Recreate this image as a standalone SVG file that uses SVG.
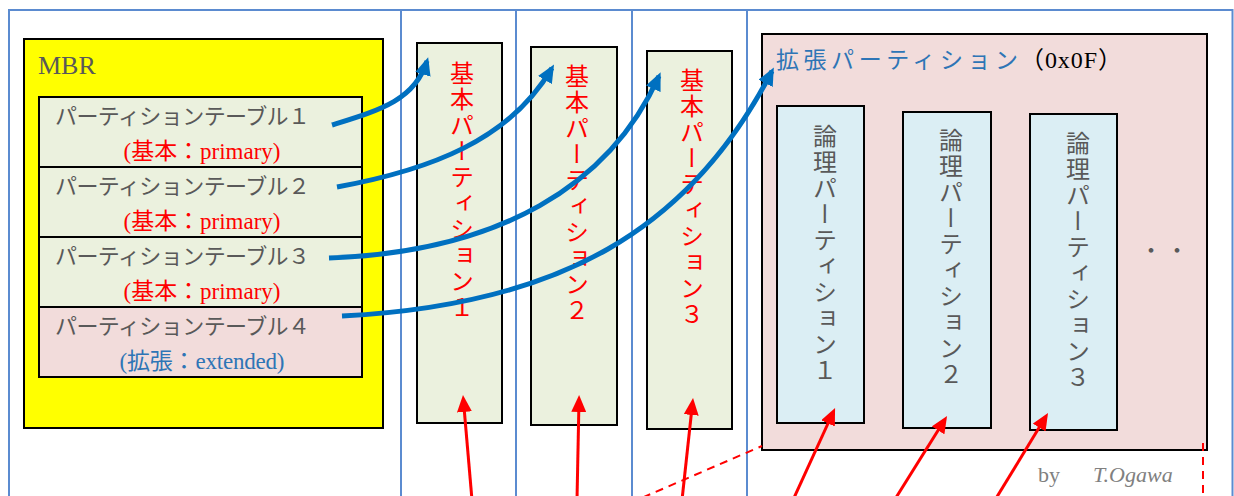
<svg xmlns="http://www.w3.org/2000/svg" width="1234" height="496" viewBox="0 0 1234 496">
<style>
.frame{fill:none;stroke:#5B8BD0;stroke-width:2}
.box{stroke:#000;stroke-width:2}
.grn{fill:#EBF1DE}
.pnk{fill:#F2DCDB}
.cyn{fill:#DBEEF4}
.t{font-family:"Liberation Serif","Noto Sans CJK JP",serif}
.gray{fill:#595959}
.red{fill:#FF0000}
.blu{fill:#2E75B6}
.vt{font-family:"Noto Sans CJK JP",sans-serif;font-size:24px;writing-mode:vertical-rl;letter-spacing:2px}
.bc{fill:none;stroke:#0070C0;stroke-width:5;marker-end:url(#bh)}
.rc{fill:none;stroke:#FF0000;stroke-width:3;marker-end:url(#rh)}
.rd{fill:none;stroke:#FF0000;stroke-width:2;stroke-dasharray:8,6}
</style>
<defs>
<marker id="bh" viewBox="0 0 18 16" refX="14" refY="8" markerWidth="18" markerHeight="16" markerUnits="userSpaceOnUse" orient="auto">
<path d="M0,0 L18,8 L0,16 z" fill="#0070C0"/>
</marker>
<marker id="rh" viewBox="0 0 17 15" refX="12" refY="7.5" markerWidth="17" markerHeight="15" markerUnits="userSpaceOnUse" orient="auto">
<path d="M0,0 L17,7.5 L0,15 z" fill="#FF0000"/>
</marker>
</defs>
<rect width="1234" height="496" fill="#fff"/>
<g id="frame">
<path class="frame" d="M9,500 V10 H1232.5 V500 M401,10 V500 M516,10 V500 M632,10 V500 M747,10 V500"/>
</g>
<g id="mbr">
<rect class="box" x="24" y="39" width="359" height="389" fill="#FFFF00"/>
<text class="t gray" x="38" y="74" font-size="26">MBR</text>
</g>
<g id="pt1">
<rect class="box grn" x="39" y="97" width="323" height="70"/>
<text class="t gray" x="55" y="124" font-size="22" textLength="255">パーティションテーブル１</text>
<text class="t red" x="202" y="159" font-size="23" text-anchor="middle" textLength="157">(基本：primary)</text>
</g>
<g id="pt2">
<rect class="box grn" x="39" y="167" width="323" height="70"/>
<text class="t gray" x="55" y="194" font-size="22" textLength="255">パーティションテーブル２</text>
<text class="t red" x="202" y="229" font-size="23" text-anchor="middle" textLength="157">(基本：primary)</text>
</g>
<g id="pt3">
<rect class="box grn" x="39" y="237" width="323" height="70"/>
<text class="t gray" x="55" y="264" font-size="22" textLength="255">パーティションテーブル３</text>
<text class="t red" x="202" y="299" font-size="23" text-anchor="middle" textLength="157">(基本：primary)</text>
</g>
<g id="pt4">
<rect class="box pnk" x="39" y="307" width="323" height="70"/>
<text class="t gray" x="55" y="334" font-size="22" textLength="255">パーティションテーブル４</text>
<text class="t blu" x="202" y="369" font-size="23" text-anchor="middle" textLength="165">(拡張：extended)</text>
</g>
<g id="primary1">
<rect class="box grn" x="417" y="43" width="85" height="380"/>
<text class="vt red" x="462" y="61">基本パーティション１</text>
</g>
<g id="primary2">
<rect class="box grn" x="531" y="47" width="86" height="378"/>
<text class="vt red" x="577" y="64">基本パーティション２</text>
</g>
<g id="primary3">
<rect class="box grn" x="647" y="51" width="85" height="378"/>
<text class="vt red" x="692" y="68">基本パーティション３</text>
</g>
<g id="extended">
<rect class="box pnk" x="762" y="34" width="445" height="416"/>
<text class="t blu" x="776" y="68" font-size="23" textLength="242">拡張パーティション</text>
<text class="t" x="1020" y="68" font-size="24" fill="#000" textLength="102">（0x0F）</text>
<text class="t gray" x="1140" y="258" font-size="22" letter-spacing="4">・・</text>
</g>
<g id="logical1">
<rect class="box cyn" x="777" y="106" width="87" height="317"/>
<text class="vt gray" x="825" y="124">論理パーティション１</text>
</g>
<g id="logical2">
<rect class="box cyn" x="903" y="112" width="88" height="316"/>
<text class="vt gray" x="951" y="128">論理パーティション２</text>
</g>
<g id="logical3">
<rect class="box cyn" x="1030" y="114" width="87" height="316"/>
<text class="vt gray" x="1078" y="131">論理パーティション３</text>
</g>
<g id="credit">
<text class="t" x="1038" y="482" font-size="22" fill="#808080">by<tspan x="1093" font-style="italic">T.Ogawa</tspan></text>
</g>
<g id="connectors">
<path class="bc" d="M332,125 C380,110 415,100 427,61"/>
<path class="bc" d="M337,187 C430,170 510,140 552,68"/>
<path class="bc" d="M329,258 C500,252 610,185 659,76"/>
<path class="bc" d="M342,316 C560,305 690,230 772,71"/>
<path class="rc" d="M472,500 L463.4,400"/>
<path class="rc" d="M577,500 L579,400"/>
<path class="rc" d="M682,500 L692.5,403"/>
<path class="rc" d="M793,500 L833,412.5"/>
<path class="rc" d="M894.5,500 L944.4,420.2"/>
<path class="rc" d="M995,500 L1045.4,417.3"/>
<path class="rd" d="M630,503 L762,446"/>
<path class="rd" d="M1203,443 V500"/>
</g>
</svg>
